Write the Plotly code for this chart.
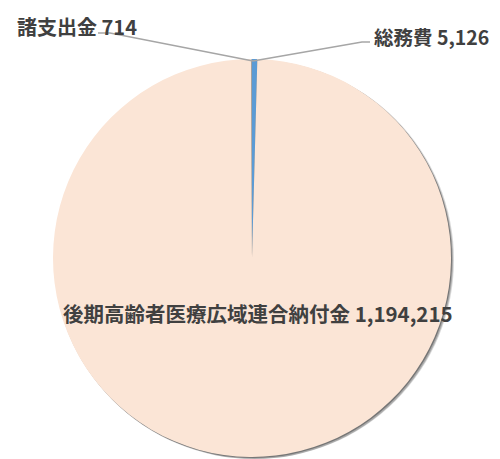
import plotly.graph_objects as go

categories = ["総務費", "後期高齢者医療広域連合納付金", "諸支出金"]
values = [5126, 1194215, 714]
value_labels = ["5,126", "1,194,215", "714"]
colors = ["#5B9BD5", "#FBE5D6", "#A5A5A5"]

OFF = 8  # page body margin
W, H = 500 - OFF, 459 - OFF
cx, cy, r = 252, 258, 199

def px(x):
    return (x - OFF) / W

def py(y):
    return 1 - (y - OFF) / H

def clamp(v):
    return min(1.0, max(0.0, v))

def dom(dx=0, dy=0):
    return dict(x=[clamp(px(cx - r + dx)), clamp(px(cx + r + dx))],
                y=[clamp(py(cy + r + dy)), clamp(py(cy - r + dy))])

fig = go.Figure()

# soft shadow layers
for (dx, dy, a) in [(3, 2, 0.15), (2, 2, 0.22), (1, 1, 0.3)]:
    fig.add_trace(go.Pie(
        values=[sum(values)], labels=["shadow"], sort=False,
        marker=dict(colors=[f"rgba(0,0,0,{a})"], line=dict(width=0)),
        textinfo="none", hoverinfo="skip", showlegend=False,
        domain=dom(dx, dy),
    ))

fig.add_trace(go.Pie(
    labels=categories, values=values, sort=False, direction="clockwise",
    rotation=0, marker=dict(colors=colors, line=dict(width=0)),
    textinfo="none", showlegend=False, domain=dom(),
))

font = dict(family="Noto Sans CJK JP", size=20, color="#404040")
small_font = dict(family="Noto Sans CJK JP", size=19.5, color="#404040")
big_font = dict(family="Noto Sans CJK JP", size=20.5, color="#404040")

annotations = [
    dict(x=px(15), y=py(26), text=f"<b>{categories[2]} {value_labels[2]}</b>",
         xanchor="left", yanchor="middle", font=font),
    dict(x=px(491), y=py(36), text=f"<b>{categories[0]} {value_labels[0]}</b>",
         xanchor="right", yanchor="middle", font=small_font),
    dict(x=px(258), y=py(313), text=f"<b>{categories[1]} {value_labels[1]}</b>",
         xanchor="center", yanchor="middle", font=big_font),
]
for a in annotations:
    a.update(xref="paper", yref="paper", showarrow=False)

line = dict(color="#A6A6A6", width=1.5)
shapes = [
    dict(type="path", xref="paper", yref="paper",
         path=f"M {px(98)} {py(33)} L {px(110)} {py(33)} L {px(253)} {py(61)}",
         line=line),
    dict(type="path", xref="paper", yref="paper",
         path=f"M {px(253)} {py(61)} L {px(362)} {py(42)} L {px(370)} {py(42)}",
         line=line),
]

fig.update_layout(
    width=W, height=H, margin=dict(l=0, r=0, t=0, b=0),
    paper_bgcolor="white", plot_bgcolor="white",
    annotations=annotations, shapes=shapes,
)

fig.write_html("out.html")
